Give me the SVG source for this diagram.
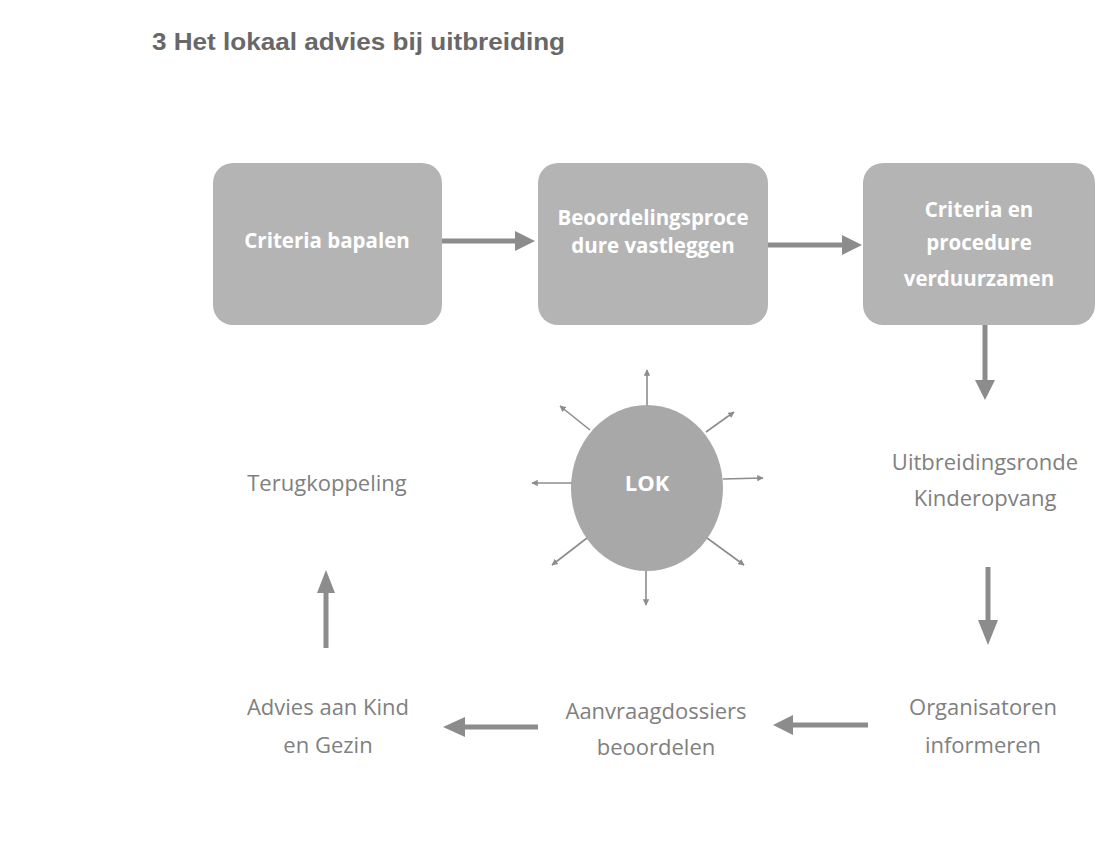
<svg xmlns="http://www.w3.org/2000/svg" width="1099" height="857" viewBox="0 0 1099 857">
<defs>
<style>
.title{font-family:"Liberation Sans",Arial,sans-serif;font-weight:bold;font-size:24px;fill:#686868}
.box{fill:#b4b4b4}
.bt{font-family:"Open Sans","Noto Sans",sans-serif;font-weight:bold;font-size:20.5px;fill:#ffffff;text-anchor:middle}
.lt{font-family:"Open Sans","Noto Sans",sans-serif;font-size:22px;fill:#808080;text-anchor:middle}
.thick{stroke:#8c8c8c;stroke-width:5;fill:none}
.spoke{stroke:#8c8c8c;stroke-width:1.6;fill:none;marker-end:url(#sm)}
.head{fill:#8c8c8c}
</style>
<marker id="sm" viewBox="0 0 10 10" refX="9" refY="5" markerWidth="4" markerHeight="4" orient="auto" markerUnits="strokeWidth">
<path d="M0,0 L10,5 L0,10 z" fill="#8c8c8c"/>
</marker>
</defs>
<rect width="1099" height="857" fill="#ffffff"/>
<text class="title" x="152" y="50" textLength="413" lengthAdjust="spacingAndGlyphs">3 Het lokaal advies bij uitbreiding</text>

<g id="node-criteria-bepalen">
<rect class="box" x="213" y="163" width="229" height="162" rx="20"/>
<text class="bt" x="327" y="248">Criteria bapalen</text>
</g>
<g id="node-beoordelingsprocedure">
<rect class="box" x="538" y="163" width="230" height="162" rx="20"/>
<text class="bt" x="653" y="225">Beoordelingsproce</text>
<text class="bt" x="653" y="253">dure vastleggen</text>
</g>
<g id="node-criteria-procedure">
<rect class="box" x="863" y="163" width="232" height="162" rx="20"/>
<text class="bt" x="979" y="217">Criteria en</text>
<text class="bt" x="979" y="250">procedure</text>
<text class="bt" x="979" y="286">verduurzamen</text>
</g>
<g id="node-lok">
<ellipse cx="647" cy="488" rx="76" ry="83" fill="#a8a8a8"/>
<text class="bt" x="647" y="491" style="font-size:22px">LOK</text>
</g>
<g id="node-uitbreidingsronde">
<text class="lt" x="985" y="470">Uitbreidingsronde</text>
<text class="lt" x="985" y="506">Kinderopvang</text>
</g>
<g id="node-organisatoren">
<text class="lt" x="983" y="715">Organisatoren</text>
<text class="lt" x="983" y="753">informeren</text>
</g>
<g id="node-aanvraagdossiers">
<text class="lt" x="656" y="719">Aanvraagdossiers</text>
<text class="lt" x="656" y="755">beoordelen</text>
</g>
<g id="node-advies">
<text class="lt" x="328" y="715">Advies aan Kind</text>
<text class="lt" x="328" y="753">en Gezin</text>
</g>
<g id="node-terugkoppeling">
<text class="lt" x="327" y="491">Terugkoppeling</text>
</g>

<g id="connectors">
<line class="thick" x1="442" y1="241" x2="517" y2="241"/>
<polygon class="head" points="515,231 535,241 515,251"/>
<line class="thick" x1="768" y1="245" x2="844" y2="245"/>
<polygon class="head" points="842,235 862,245 842,255"/>
<line class="thick" x1="985" y1="325" x2="985" y2="382"/>
<polygon class="head" points="975,380 985,400 995,380"/>
<line class="thick" x1="988" y1="567" x2="988" y2="622"/>
<polygon class="head" points="978,620 988,645 998,620"/>
<line class="thick" x1="868" y1="725" x2="790" y2="725"/>
<polygon class="head" points="793,715 773,725 793,735"/>
<line class="thick" x1="538" y1="727" x2="462" y2="727"/>
<polygon class="head" points="465,717 443,727 465,737"/>
<line class="thick" x1="326" y1="648" x2="326" y2="590"/>
<polygon class="head" points="317,593 326,570 335,593"/>
<line class="spoke" x1="647" y1="405" x2="647" y2="370"/>
<line class="spoke" x1="572" y1="483" x2="532" y2="483"/>
<line class="spoke" x1="723" y1="479" x2="763" y2="478"/>
<line class="spoke" x1="590" y1="430" x2="560" y2="406"/>
<line class="spoke" x1="706" y1="432" x2="734" y2="412"/>
<line class="spoke" x1="587" y1="538" x2="552" y2="565"/>
<line class="spoke" x1="707" y1="538" x2="744" y2="565"/>
<line class="spoke" x1="646" y1="571" x2="646" y2="605"/>
</g>
</svg>
